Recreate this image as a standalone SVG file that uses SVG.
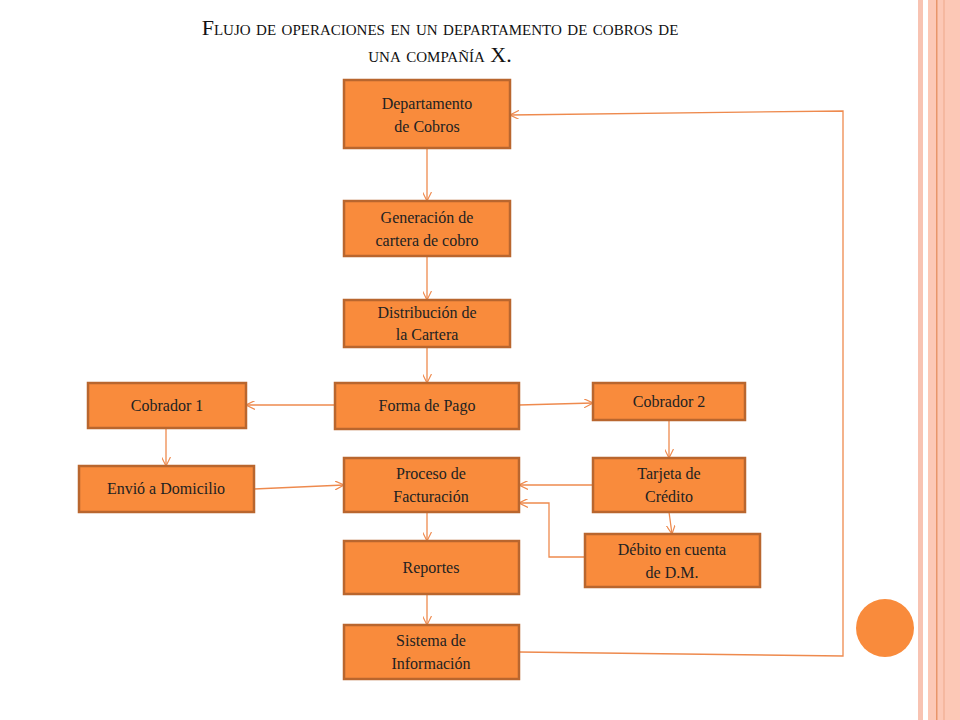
<svg xmlns="http://www.w3.org/2000/svg" width="960" height="720" viewBox="0 0 960 720">
<style>
.n rect{fill:#f98b3c;stroke:#b9662e;stroke-width:2.5}
.n text{font-family:"Liberation Serif",serif;font-size:16px;fill:#222;text-anchor:middle}
.c path{fill:none;stroke:#ee8a4e;stroke-width:1.3;marker-end:url(#a)}
.t{font-family:"Liberation Serif",serif;font-size:22px;font-variant:small-caps;fill:#111;text-anchor:middle}
</style>
<defs><marker id="a" viewBox="0 0 10 10" refX="10" refY="5" markerWidth="9" markerHeight="9" orient="auto" markerUnits="userSpaceOnUse"><path d="M0,0L10,5L0,10" fill="none" stroke="#ee8a4e" stroke-width="1.3"/></marker></defs>
<rect width="960" height="720" fill="#fff"/>
<rect x="918" y="0" width="5" height="720" fill="#f8c3b2"/>
<rect x="928" y="0" width="32" height="720" fill="#fcc8b6"/>
<rect x="936" y="0" width="1.5" height="720" fill="#e8956a"/>
<rect x="943" y="0" width="2" height="720" fill="#f5b8a0"/>
<circle cx="885" cy="628" r="29" fill="#f98b3c"/>
<text class="t" x="440" y="35">Flujo de operaciones en un departamento de cobros de</text>
<text class="t" x="440" y="62">una compañía  X.</text>
<g class="c">
<path d="M427,148V201"/><path d="M427,256V300"/><path d="M427,347V383"/>
<path d="M335,405H246"/><path d="M519,405L593,403"/><path d="M166,428V466"/>
<path d="M254,489L344,485"/><path d="M669,420V458"/><path d="M593,485H519"/>
<path d="M669,512L672,534"/><path d="M585,557H549V503H519"/>
<path d="M427,512V541"/><path d="M427,594V625"/>
<path d="M519,652L843,656V111L510,115"/>
</g>
<g class="n" id="n1"><rect x="344" y="80" width="166" height="68"/><text x="427" y="109">Departamento</text><text x="427" y="132">de Cobros</text></g>
<g class="n" id="n2"><rect x="344" y="201" width="166" height="55"/><text x="427" y="223">Generación de</text><text x="427" y="246">cartera  de cobro</text></g>
<g class="n" id="n3"><rect x="344" y="300" width="166" height="47"/><text x="427" y="318">Distribución de</text><text x="427" y="340">la Cartera</text></g>
<g class="n" id="n4"><rect x="335" y="383" width="184" height="46"/><text x="427" y="411">Forma de Pago</text></g>
<g class="n" id="n5"><rect x="88" y="383" width="158" height="45"/><text x="167" y="411">Cobrador 1</text></g>
<g class="n" id="n6"><rect x="593" y="383" width="152" height="37"/><text x="669" y="407">Cobrador 2</text></g>
<g class="n" id="n7"><rect x="79" y="466" width="175" height="46"/><text x="166" y="494">Envió a Domicilio</text></g>
<g class="n" id="n8"><rect x="344" y="458" width="175" height="54"/><text x="431" y="479">Proceso de</text><text x="431" y="502">Facturación</text></g>
<g class="n" id="n9"><rect x="593" y="458" width="152" height="54"/><text x="669" y="479">Tarjeta de</text><text x="669" y="502">Crédito</text></g>
<g class="n" id="n10"><rect x="585" y="534" width="175" height="53"/><text x="672" y="555">Débito en cuenta</text><text x="672" y="578">de D.M.</text></g>
<g class="n" id="n11"><rect x="344" y="541" width="175" height="53"/><text x="431" y="573">Reportes</text></g>
<g class="n" id="n12"><rect x="344" y="625" width="175" height="54"/><text x="431" y="646">Sistema de</text><text x="431" y="669">Información</text></g>
</svg>
